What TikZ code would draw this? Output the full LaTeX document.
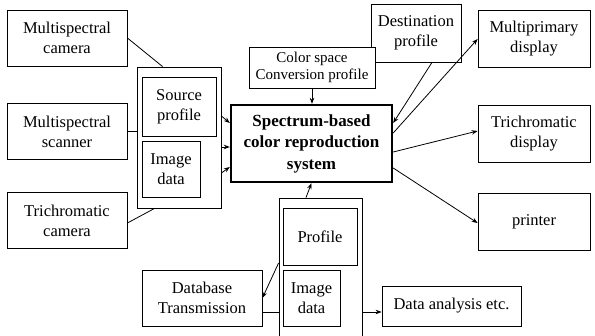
\documentclass[tikz,border=0pt]{standalone}
\usepackage{fontspec}
\setmainfont{Liberation Serif}
\usetikzlibrary{arrows.meta}

\begin{document}
\begin{tikzpicture}[x=1pt,y=-1pt,
    blk/.style={draw,line width=0.8pt,align=center,inner sep=0pt,
      minimum width=120pt,minimum height=56pt,
      font=\fontsize{16.5}{20}\selectfont},
    arr/.style={-{Stealth[length=6pt,width=4.5pt]},line width=0.8pt}]
    \useasboundingbox (0,0) rectangle (595,336);

    % Input devices
    \foreach \n/\y/\t in {mcam/38/{Multispectral\\camera},
        mscan/131.5/{Multispectral\\scanner},
        tcam/220.5/{Trichromatic\\camera}} {
      \node[blk] (\n) at (67,\y) {\t};
    }

    % Output devices
    \foreach \n/\y/\t in {mdisp/39/{Multiprimary\\display},
        tdisp/133.5/{Trichromatic\\display},
        prn/221.5/{printer}} {
      \node[blk,minimum width=112pt,minimum height=57pt] (\n) at (534,\y) {\t};
    }

    % Source side: profile + image data
    \node[blk,minimum width=84pt,minimum height=141pt] (src) at (179,137.5) {};
    \node[blk,minimum width=74pt,minimum height=59pt] (srcprof) at (179,106.5) {Source\\profile};
    \node[blk,minimum width=58pt,minimum height=56pt] (srcimg) at (171,169) {Image\\data};

    % Central system
    \node[blk,line width=2.4pt,minimum width=161pt,minimum height=77pt,
      font=\fontsize{17}{21.5}\selectfont\bfseries] (sys) at (311.5,143.5)
      {Spectrum-based\\color reproduction\\system};

    % Profiles on top
    \node[blk,minimum width=90pt,minimum height=58pt] (dest) at (416,33) {Destination\\profile};
    \node[blk,fill=white,minimum width=126pt,minimum height=41pt,
      font=\fontsize{15}{17}\selectfont] (cspace) at (312,67.5) {Color space\\Conversion profile};

    % Database side
    \node[blk,minimum width=83pt,minimum height=142pt] (db) at (320.5,269) {};
    \node[blk,minimum width=74pt,minimum height=57pt] (dbprof) at (320,236.5) {Profile};
    \node[blk,minimum width=57pt,minimum height=56pt] (dbimg) at (311.5,298) {Image\\data};
    \node[blk] (dbtr) at (202,298) {Database\\Transmission};
    \node[blk,minimum width=139pt,minimum height=40pt] (ana) at (451.5,306) {Data analysis etc.};

    % Inputs into source box
    \draw[line width=0.8pt] (mcam.east) -- ([xshift=26pt]src.north west);
    \draw[line width=0.8pt] (mscan.east) -- (mscan.east -| src.west);
    \draw[line width=0.8pt] ([yshift=-2.5pt]tcam.east) -- ([xshift=18pt]src.south west);

    % Source box into system
    \draw[arr] ([yshift=21.5pt]src.east) -- ([yshift=20.5pt]sys.west);
    \draw[arr] ([yshift=-9.5pt]src.east) -- ([yshift=-3.5pt]sys.west);
    \draw[arr] ([yshift=-35.5pt]src.east) -- ([yshift=-23.5pt]sys.west);

    % Profiles into system
    \draw[arr] (cspace.south) -- (cspace.south |- sys.north);
    \draw[arr] ([xshift=16pt]dest.south) -- ([yshift=20.5pt]sys.east);

    % System to outputs
    \draw[arr] ([yshift=10.5pt]sys.east) -- (mdisp.west);
    \draw[arr] ([yshift=-8.5pt]sys.east) -- ([yshift=2.5pt]tdisp.west);
    \draw[arr] ([yshift=-24.5pt]sys.east) -- ([yshift=-1.5pt]prn.west);

    % Database links
    \draw[arr] ([xshift=-14.5pt]db.north) -- (sys.south);
    \draw[arr] ([yshift=6pt]db.west) -- (dbtr.east);
    \draw[line width=0.8pt] ([yshift=-14pt]dbtr.east) -- ([yshift=-14pt]dbtr.east -| db.west);
    \draw[arr] ([yshift=-6pt]ana.west -| db.east) -- ([yshift=-6pt]ana.west);
\end{tikzpicture}
\end{document}
